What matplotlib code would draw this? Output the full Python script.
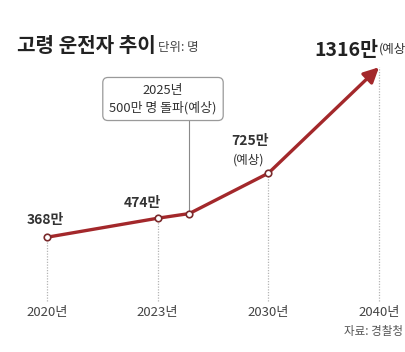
import matplotlib
matplotlib.use("Agg")
import matplotlib.pyplot as plt

plt.rcParams['font.family'] = ['Noto Sans CJK KR', 'DejaVu Sans']

years = ["2020년", "2023년", "2030년", "2040년"]
year_pos = [0, 1, 2, 3]
values = [368, 474, 725, 1316]
labels = ["368만", "474만", "725만", "1316만"]
mid_pos = 1 + 2 / 7          # 2025 between 2023 and 2030
mid_value = 500
title = "고령 운전자 추이"
unit = "단위: 명"
source = "자료: 경찰청"
callout = "2025년\n500만 명 돌파(예상)"

RED = "#a3282b"

W, H = 406, 352
fig = plt.figure(figsize=(W / 100, H / 100), dpi=100)
fig.patch.set_facecolor("white")
ax = fig.add_axes([0, 0, 1, 1])
ax.set_xlim(-0.4247, 3.244)
ax.set_ylim(-272, 1691)
ax.axis("off")

def fx(px):
    return px / W

def fy(py):
    return 1 - py / H

# dotted guides
base = 13
for xp, v in zip(year_pos, values):
    ax.vlines(xp, base, v, colors="#b5b5b5", linestyles=(0, (1, 1.2)), lw=0.9, zorder=1)

# line through points (up to 2030)
xs = [year_pos[0], year_pos[1], mid_pos, year_pos[2]]
ys = [values[0], values[1], mid_value, values[2]]
ax.plot(xs, ys, color=RED, lw=2.4, zorder=3, solid_capstyle="round")
ax.annotate("", xy=(year_pos[3], values[3]), xytext=(year_pos[2], values[2]),
            arrowprops=dict(arrowstyle="-|>,head_length=0.9,head_width=0.45",
                            color=RED, lw=2.4, shrinkA=0, shrinkB=0), zorder=3)
ax.scatter(xs, ys, s=22, facecolor="white", edgecolor="#7a2a2c", linewidth=1.2, zorder=4)

# callout connector and box
ax.vlines(mid_pos, mid_value, 1085, colors="#8a8a8a", lw=0.8, zorder=2)
fig.text(fx(163), fy(99), callout, ha="center", va="center", fontsize=9.3,
         color="#333333", linespacing=1.35,
         bbox=dict(boxstyle="round,pad=0.5,rounding_size=0.4", fc="white",
                   ec="#9a9a9a", lw=0.9))

# data labels
lab_kw = dict(textcoords="offset points", ha="center", va="center",
              fontsize=10, fontweight="bold", color="#333333")
ax.annotate(labels[0], (year_pos[0], values[0]), xytext=(-1, 12.5), **lab_kw)
ax.annotate(labels[1], (year_pos[1], values[1]), xytext=(-11, 11), **lab_kw)
ax.annotate(labels[2], (year_pos[2], values[2]), xytext=(-13, 23.5), **lab_kw)
ax.annotate("(예상)", (year_pos[2], values[2]), xytext=(-14, 9.5), textcoords="offset points",
            ha="center", va="center", fontsize=9, color="#333333")
fig.text(fx(378), fy(50), labels[3], ha="right", va="center", fontsize=14,
         fontweight="bold", color="#222222")
fig.text(fx(379), fy(49), "(예상)", ha="left", va="center", fontsize=9, color="#333333")

# x tick labels
for xp, yl in zip(year_pos, years):
    ax.annotate(yl, (xp, base), xytext=(0, -4), textcoords="offset points",
                ha="center", va="top", fontsize=9.5, color="#444444")

# title
fig.text(fx(17), fy(45), title, ha="left", va="center", fontsize=14.5,
         fontweight="bold", color="#222222")
fig.text(fx(158), fy(47), unit, ha="left", va="center", fontsize=9, color="#444444")
fig.text(fx(403), fy(331), source, ha="right", va="center", fontsize=8.3, color="#555555")

fig.savefig("out.png", dpi=100, facecolor="white")
